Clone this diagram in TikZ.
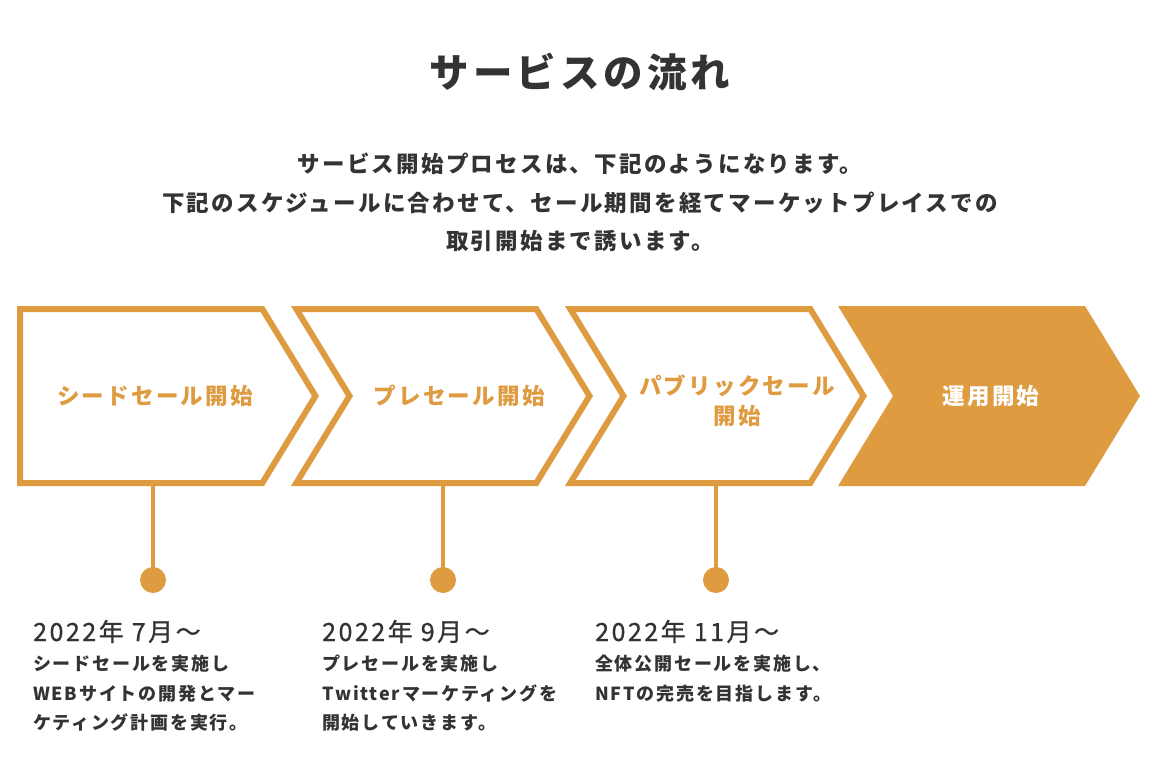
\documentclass[tikz,border=0pt]{standalone}
\usepackage{fontspec}
\setmainfont{Noto Sans CJK JP}[LetterSpace=10]
\newfontfamily\datefont{Noto Sans CJK JP}[LetterSpace=10, FakeBold=0.8]
\usetikzlibrary{positioning}
\definecolor{flowor}{HTML}{DE9B40}
\definecolor{inkgray}{HTML}{333333}

\begin{document}
\begin{tikzpicture}[x=1pt, y=-1pt,
    chev/.style={draw=flowor, line width=6pt, line join=miter},
    chevfill/.style={fill=flowor},
    stem/.style={draw=flowor, line width=4pt},
    dot/.style={circle, fill=flowor, minimum size=26pt, inner sep=0pt},
    lbl/.style={font=\fontsize{22.5}{30}\selectfont\bfseries, text=flowor, align=center, inner sep=0pt},
    datetxt/.style={font=\fontsize{25}{28}\selectfont\datefont, text=inkgray, anchor=base west, inner sep=0pt},
    desc/.style={font=\fontsize{18}{29.5}\selectfont\bfseries, text=inkgray, align=left, anchor=north west, inner sep=0pt},
  ]
  \useasboundingbox[fill=white] (0,0) rectangle (1160,760);

  % heading
  \node[font=\fontsize{39.5}{44}\selectfont\bfseries, text=inkgray] (title) at (580,72) {サービスの流れ};
  \node[font=\fontsize{22.5}{38.5}\selectfont\bfseries, text=inkgray, align=center, anchor=north, inner sep=0pt] (intro) at (580,153)
    {サービス開始プロセスは、下記のようになります。\\
     下記のスケジュールに合わせて、セール期間を経てマーケットプレイスでの\\
     取引開始まで誘います。};

  % chevrons
  \draw[chev, shift={(17,0)}] (3,309) -- (245.3,309) -- (298.5,396) -- (245.3,483) -- (3,483) -- cycle;
  \draw[chev, shift={(291,0)}] (5.3,309) -- (245.3,309) -- (298.5,396) -- (245.3,483) -- (5.3,483) -- (58.5,396) -- cycle;
  \draw[chev, shift={(565,0)}] (5.3,309) -- (245.3,309) -- (298.5,396) -- (245.3,483) -- (5.3,483) -- (58.5,396) -- cycle;
  \fill[chevfill, shift={(838,0)}] (0,306) -- (247,306) -- (302,396) -- (247,486) -- (0,486) -- (55,396) -- cycle;

  \node[lbl] (seed) at (155,396) {シードセール開始};
  \node[lbl] (pre) at (459,396) {プレセール開始};
  \node[lbl] (pub) at (737,401) {パブリックセール\\開始};
  \node[lbl, text=white] (ops) at (991,396) {運用開始};

  % stems and dots
  \coordinate (seedb) at (153,486);
  \coordinate (preb) at (443,486);
  \coordinate (pubb) at (716,486);
  \node[dot] (d1) at (153,580) {};
  \node[dot] (d2) at (443,580) {};
  \node[dot] (d3) at (716,580) {};
  \draw[stem] (seedb) -- (d1.center);
  \draw[stem] (preb) -- (d2.center);
  \draw[stem] (pubb) -- (d3.center);

  % schedule texts
  \node[datetxt] (t1) at (33,641) {2022年 7月〜};
  \node[desc] (s1) at (33,655) {シードセールを実施し\\WEBサイトの開発とマー\\ケティング計画を実行。};
  \node[datetxt] (t2) at (322,641) {2022年 9月〜};
  \node[desc] (s2) at (322,655) {プレセールを実施し\\Twitterマーケティングを\\開始していきます。};
  \node[datetxt] (t3) at (595,641) {2022年 11月〜};
  \node[desc] (s3) at (595,655) {全体公開セールを実施し、\\NFTの完売を目指します。};
\end{tikzpicture}
\end{document}
